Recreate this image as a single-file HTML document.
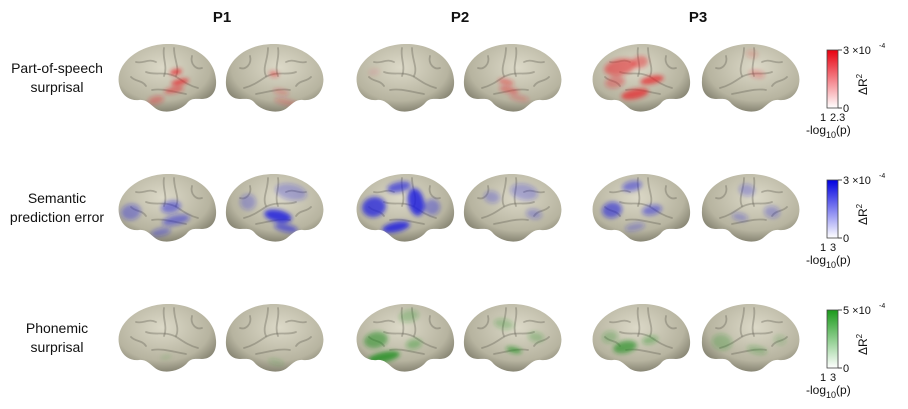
<!DOCTYPE html>
<html><head><meta charset="utf-8">
<style>
body{margin:0;background:#fff;width:908px;height:409px;overflow:hidden;font-family:"Liberation Sans",sans-serif}
svg{display:block}
</style></head><body>
<svg id="fig" width="908" height="409" viewBox="0 0 908 409" xmlns="http://www.w3.org/2000/svg">
<defs>
<radialGradient id="bg" cx="45%" cy="35%" r="70%">
<stop offset="0" stop-color="#dcd9c8"/><stop offset="0.7" stop-color="#b7b4a0"/><stop offset="1" stop-color="#7a7867"/>
</radialGradient>
<linearGradient id="gr" x1="0" y1="1" x2="0" y2="0"><stop offset="0" stop-color="#fff"/><stop offset="1" stop-color="#e8000f"/></linearGradient>
<linearGradient id="gb" x1="0" y1="1" x2="0" y2="0"><stop offset="0" stop-color="#fff"/><stop offset="1" stop-color="#0000e0"/></linearGradient>
<linearGradient id="gg" x1="0" y1="1" x2="0" y2="0"><stop offset="0" stop-color="#fff"/><stop offset="1" stop-color="#1a9a1a"/></linearGradient>
<filter id="blur" x="-50%" y="-50%" width="200%" height="200%"><feGaussianBlur stdDeviation="2.2"/></filter>
</defs>
<g font-weight="bold" font-size="15" text-anchor="middle" fill="#111">
<text x="222" y="22">P1</text>
<text x="460" y="22">P2</text>
<text x="698" y="22">P3</text>
</g>
<g font-size="14" text-anchor="middle" fill="#111">
<text x="57" y="73">Part-of-speech</text>
<text x="57" y="92">surprisal</text>
<text x="57" y="203">Semantic</text>
<text x="57" y="222">prediction error</text>
<text x="57" y="333">Phonemic</text>
<text x="57" y="352">surprisal</text>
</g>
<g id="brains"></g>
<g id="cbars"></g>
</svg>
<script>
const rowsY=[42,172,302];
const colsX=[[116,222],[354,460],[590,698]];
const rowColors=['#e8202a','#1a1ae0','#1d8f1d'];
// blobs per [row][col][hemi]: [x,y,rx,ry,opacity] in brain-local coords (100x72)
const blobs=[
 [[[[60,30,6,3,0.8],[64,40,9,3,0.8],[58,48,10,3,0.6],[40,58,8,4,0.4]],[[52,32,5,3,0.5],[45,50,8,3,0.3],[40,60,12,3,0.3]]],
  [[[20,30,6,4,0.1]],[[58,40,8,3,0.5],[55,48,10,3,0.5],[45,56,10,3,0.3]]],
  [[[30,25,16,8,0.6],[50,20,8,6,0.5],[62,38,12,4,0.8],[45,52,14,5,0.8],[25,40,10,6,0.4]],[[45,32,8,4,0.3],[50,12,6,4,0.2]]]],
 [[[[15,40,10,8,0.4],[55,35,10,6,0.5],[60,48,14,5,0.5],[45,60,10,4,0.4]],[[35,20,16,8,0.3],[48,44,14,6,0.9],[40,56,12,4,0.6],[78,30,8,8,0.3]]],
  [[[20,35,12,10,0.8],[45,15,12,5,0.7],[62,30,8,14,0.9],[42,55,14,5,0.9],[78,35,8,8,0.4]],[[40,20,14,8,0.3],[72,25,8,6,0.3],[30,42,8,5,0.3]]],
  [[[22,38,10,8,0.6],[42,14,10,5,0.5],[62,38,10,5,0.5],[45,55,10,4,0.3]],[[55,18,8,6,0.3],[30,40,8,6,0.3],[62,45,8,4,0.3]]]],
 [[[[50,55,6,3,0.1]],[[50,60,8,3,0.2]]],
  [[[22,38,12,8,0.6],[55,14,10,6,0.3],[30,55,16,5,0.9],[60,42,8,5,0.4]],[[50,48,8,3,0.7],[60,22,10,5,0.3],[28,35,8,5,0.3]]],
  [[[35,45,12,6,0.7],[60,38,8,4,0.4],[20,35,8,6,0.3]],[[80,40,10,8,0.3],[45,48,10,4,0.3],[22,38,6,5,0.2]]]]
];
const cbarMax=['3 \u00d710','3 \u00d710','5 \u00d710'];
const cbarP=['2.3','3','3'];
const grads=['gr','gb','gg'];
const NS='http://www.w3.org/2000/svg';
const shape="M3,42 C-1,22 22,3 50,2 C78,1 99,17 100,38 C101,50 95,57 86,57 C80,57 76,56 72,60 C65,69 48,73 39,66 C34,62 30,57 23,58 C13,59 5,53 3,42Z";
const sulci=["M30,30 C40,34 50,28 62,36 C68,40 74,44 82,46","M48,6 C46,16 52,24 48,34","M58,6 C58,18 64,26 60,34","M20,20 C28,22 32,16 40,20","M36,48 C46,46 58,50 70,52","M15,35 C20,40 26,38 30,44","M76,14 C74,22 80,28 86,26"];
const g=document.getElementById('brains');
function el(t,a,p){const e=document.createElementNS(NS,t);for(const k in a)e.setAttribute(k,a[k]);p.appendChild(e);return e;}
for(let r=0;r<3;r++)for(let c=0;c<3;c++)for(let h=0;h<2;h++){
 const x=colsX[c][h],y=rowsY[r];
 const tr=h===0?`translate(${x},${y})`:`translate(${x+104},${y}) scale(-1,1)`;
 const b=el('g',{transform:tr},g);
 
 
 el('path',{d:shape,fill:'url(#bg)'},b);
 const cid='clip'+r+c+h;
 const cp=el('clipPath',{id:cid},b);el('path',{d:shape},cp);
 const bl=el('g',{'clip-path':`url(#${cid})`},b);
 for(const s of sulci)el('path',{d:s,fill:'none',stroke:'#5e5c50','stroke-width':1.8,'stroke-opacity':0.35,'stroke-linecap':'round'},bl);
 const fg=el('g',{filter:'url(#blur)'},bl);
 for(const bb of blobs[r][c][h]){
  const e=el('ellipse',{cx:bb[0],cy:bb[1],rx:bb[2],ry:bb[3],fill:rowColors[r],'fill-opacity':bb[4]*0.9,transform:`rotate(-12 ${bb[0]} ${bb[1]})`},fg);
  
  
 }
}
const cb=document.getElementById('cbars');
for(let r=0;r<3;r++){
 const y=rowsY[r]+8;
 const cg=el('g',{},cb);
 
 
 el('rect',{x:827,y:y,width:11,height:58,fill:'url(#'+grads[r]+')',stroke:'#444','stroke-width':0.8},cg);
 el('line',{x1:838,y1:y,x2:842,y2:y,stroke:'#444'},cg);
 el('line',{x1:838,y1:y+58,x2:842,y2:y+58,stroke:'#444'},cg);
 const t1=el('text',{x:843,y:y+4,'font-size':11,fill:'#111'},cg);t1.textContent=cbarMax[r];
 const t1s=el('text',{x:879,y:y-2,'font-size':7,fill:'#111'},cg);t1s.textContent='-4';
 const t0=el('text',{x:843,y:y+62,'font-size':11,fill:'#111'},cg);t0.textContent='0';
 const ta=el('text',{x:820,y:y+71,'font-size':11,fill:'#111'},cg);ta.textContent='1';
 const tb=el('text',{x:830,y:y+71,'font-size':11,fill:'#111'},cg);tb.textContent=cbarP[r];
 const tl=el('text',{x:806,y:y+84,'font-size':12,fill:'#111'},cg);tl.innerHTML='-log<tspan font-size="9" dy="4">10</tspan><tspan dy="-4">(p)</tspan>';
 const tr=el('text',{transform:`translate(867,${y+45}) rotate(-90)`,'font-size':12,fill:'#111'},cg);tr.innerHTML='\u0394R<tspan font-size="8" dy="-5">2</tspan>';
}
</script>
</body></html>
